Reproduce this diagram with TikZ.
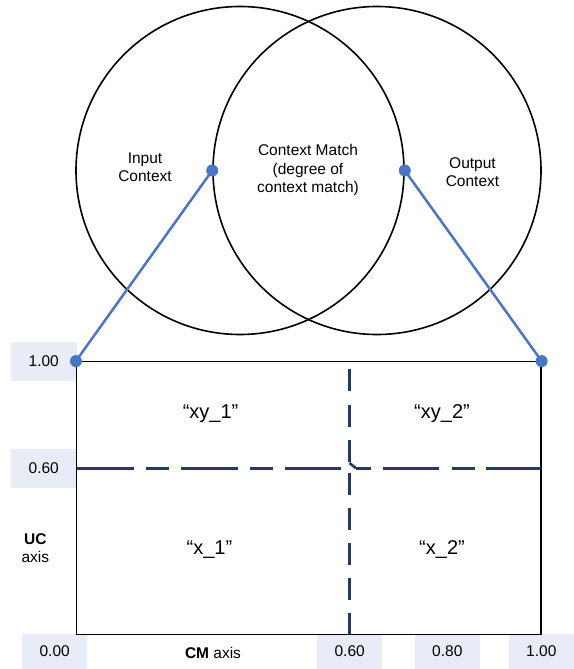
\documentclass[tikz,border=0pt]{standalone}
\usepackage{fontspec}
\setmainfont{Liberation Sans}
\definecolor{linkblue}{RGB}{72,118,196}
\definecolor{gridblue}{RGB}{32,58,110}
\definecolor{boxblue}{RGB}{231,236,247}
\begin{document}
\begin{tikzpicture}[x=1pt,y=-1pt,
  ring/.style={draw=black, line width=1.6pt, circle, minimum size=328pt, inner sep=0pt},
  lbl/.style={font=\fontsize{15.5}{18.3}\selectfont, align=center, inner sep=0pt},
  quad/.style={font=\fontsize{20}{24}\selectfont, inner sep=0pt},
  valbox/.style={fill=boxblue, minimum width=65.5pt, inner sep=0pt, font=\fontsize{15.5}{18.3}\selectfont},
  link/.style={draw=linkblue, line width=2.5pt},
  dotn/.style={circle, fill=linkblue, minimum size=12pt, inner sep=0pt},
  gridline/.style={draw=gridblue, line width=2.6pt},
  frame/.style={draw=black, line width=1.2pt, minimum width=464.5pt, minimum height=272.6pt, inner sep=0pt}
]
\useasboundingbox (0,0) rectangle (573,669);

% value boxes
\node[valbox, minimum height=39pt] (v100l) at (43.75,361.5) {1.00};
\node[valbox, minimum height=39pt] (v060l) at (43.75,468.5) {0.60};
\node[valbox, minimum height=35pt] (v000) at (54.7,651.5) {0.00};
\node[valbox, minimum height=35pt] (v060b) at (349.7,651.5) {0.60};
\node[valbox, minimum height=35pt] (v080b) at (447.3,651.5) {0.80};
\node[valbox, minimum height=35pt] (v100b) at (541.3,651.5) {1.00};

% circles
\node[ring] (L) at (240,170.5) {};
\node[ring] (R) at (377,170.5) {};

% texts in circles
\node[lbl] (tin) at (145,167.5) {Input\\Context};
\node[lbl] (tcm) at (308,170) {Context Match\\(degree of\\context match)};
\node[lbl] (tout) at (472.5,172.5) {Output\\Context};

% plot frame
\node[frame] (plot) at (308.75,498) {};

% grid lines
\coordinate (hA) at (76.5,468.3);
\coordinate (hB) at (341,468.3);
\coordinate (jA) at (349.5,463);
\coordinate (jB) at (356,468.3);
\coordinate (hC) at (541,468.3);
\coordinate (vA) at (349.5,369.3);
\coordinate (vB) at (349.5,473);
\coordinate (vC) at (349.5,634.3);
\draw[gridline, dash pattern=on 57pt off 12pt on 23pt off 12pt] (hA) -- (hB);
\draw[gridline] (jA) -- (jB);
\draw[gridline, dash pattern=on 15pt off 12pt on 56pt off 13pt on 23pt off 11pt on 60pt off 0pt] (jB) -- (hC);
\draw[gridline, dash pattern=on 22pt off 13.5pt] (vA) -- (jA);
\draw[gridline, dash pattern=on 22pt off 13pt] (vB) -- (vC);

% quadrant labels
\node[quad] (q1) at (210.6,413.3) {“xy\_1”};
\node[quad] (q2) at (442,413.3) {“xy\_2”};
\node[quad] (q3) at (209.5,549.3) {“x\_1”};
\node[quad] (q4) at (442,549.3) {“x\_2”};

% axis labels
\node[lbl] (uc) at (35.3,548) {\textbf{UC}\\axis};
\node[lbl] (cm) at (213,652.7) {\textbf{CM} axis};

% connectors
\draw[link] (R.west) -- (plot.north west);
\draw[link] (L.east) -- (plot.north east);
\node[dotn] (d1) at (R.west) {};
\node[dotn] (d2) at (L.east) {};
\node[dotn] (d3) at (plot.north west) {};
\node[dotn] (d4) at (plot.north east) {};
\end{tikzpicture}
\end{document}
